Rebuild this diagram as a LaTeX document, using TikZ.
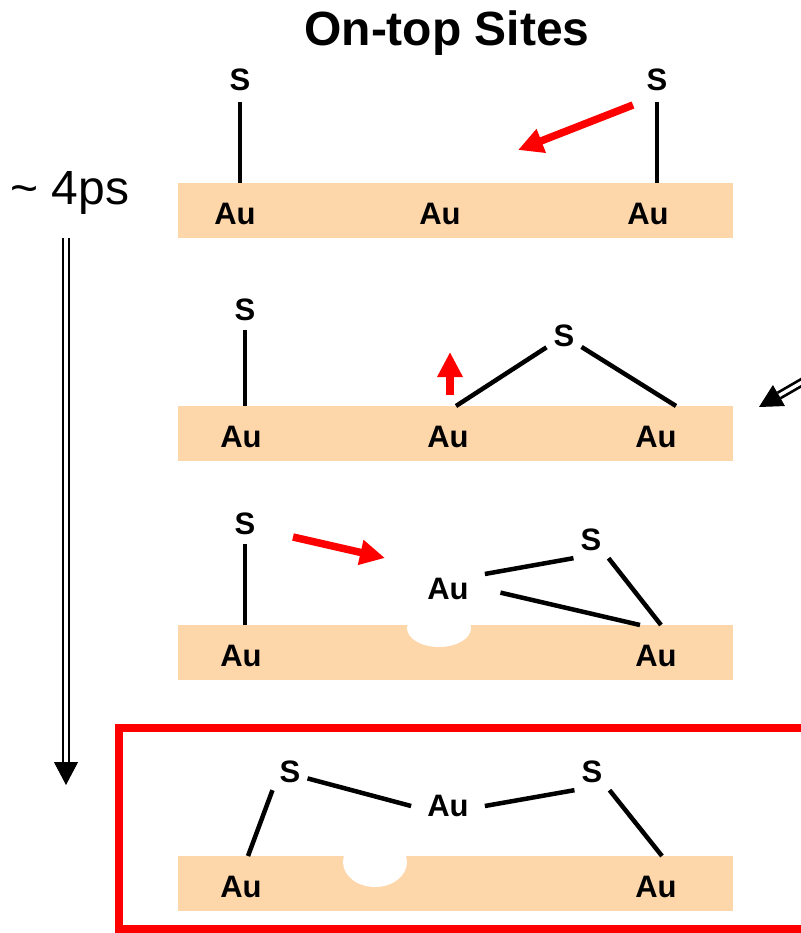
\documentclass[tikz,border=0pt]{standalone}
\usepackage{fontspec}
\setmainfont{Liberation Sans}
\usetikzlibrary{arrows.meta}
\definecolor{surface}{RGB}{253,214,170}

\begin{document}
\begin{tikzpicture}[x=1pt, y=-1pt,
    slab/.style={fill=surface, minimum width=555pt, minimum height=55pt, inner sep=0pt},
    atom/.style={font=\bfseries\fontsize{31}{33}\selectfont, inner sep=7pt},
    adatom/.style={font=\bfseries\fontsize{31}{33}\selectfont, inner xsep=16pt, inner ysep=4pt},
    bond/.style={line width=4.5pt},
    move/.style={red, line width=7.5pt, -{Triangle[width=24pt, length=25pt]}},
    slow/.style={line width=2.7pt, double, double distance=3.4pt},
    head/.style={line width=1pt, -{Triangle[width=24pt, length=23pt]}}]
  \useasboundingbox (0,0) rectangle (800,933);

  \node[font=\bfseries\fontsize{48}{52}\selectfont] (title) at (447,33) {On-top Sites};
  \node[font=\fontsize{48}{52}\selectfont] (time) at (70,193) {\textasciitilde{} 4ps};

  % the four gold surfaces
  \node[slab] (slab1) at (455.5,210.5) {};
  \node[slab] (slab2) at (455.5,433.5) {};
  \node[slab] (slab3) at (455.5,652.5) {};
  \node[slab] (slab4) at (455.5,883.5) {};
  % vacancies
  \fill[white] (439,628) ellipse [x radius=32pt, y radius=19pt];
  \fill[white] (375,862) ellipse [x radius=32pt, y radius=25pt];

  % step 1
  \node[atom] (s1a) at (240,80) {S};
  \node[atom] (s1b) at (657,80) {S};
  \node[atom] (au1a) at (235,214) {Au};
  \node[atom] (au1b) at (440,214) {Au};
  \node[atom] (au1c) at (648,214) {Au};
  \draw[bond, shorten <=4pt] (s1a) -- (s1a |- slab1.north);
  \draw[bond, shorten <=4pt] (s1b) -- (s1b |- slab1.north);
  \coordinate (m1a) at (633,105);
  \coordinate (m1b) at (518,150);
  \draw[move] (m1a) -- (m1b);

  % step 2
  \node[atom] (s2a) at (245,310) {S};
  \node[atom] (s2b) at (564,336) {S};
  \node[atom] (au2a) at (241,437) {Au};
  \node[atom] (au2b) at (448,437) {Au};
  \node[atom] (au2c) at (656,437) {Au};
  \coordinate (c2a) at (456,406);
  \coordinate (c2b) at (676,406);
  \draw[bond, shorten <=2pt] (s2a) -- (s2a |- slab2.north);
  \draw[bond] (s2b) -- (c2a);
  \draw[bond] (s2b) -- (c2b);
  \coordinate (m2a) at (450,395);
  \coordinate (m2b) at (450,352);
  \draw[move] (m2a) -- (m2b);

  % step 3
  \node[atom] (s3a) at (245,524) {S};
  \node[atom] (s3b) at (591,540) {S};
  \node[adatom] (au3) at (448,589) {Au};
  \node[atom] (au3a) at (241,656) {Au};
  \node[atom] (au3b) at (656,656) {Au};
  \coordinate (c3a) at (640,625);
  \coordinate (c3b) at (661,625);
  \draw[bond, shorten <=2pt] (s3a) -- (s3a |- slab3.north);
  \draw[bond] (au3.north east) -- (s3b.south west);
  \draw[bond, shorten <=16pt] (au3.east) -- (c3a);
  \draw[bond] (s3b.south east) -- (c3b);
  \coordinate (m3a) at (293,537);
  \coordinate (m3b) at (385,558);
  \draw[move] (m3a) -- (m3b);

  % step 4: staple
  \draw[red, line width=8pt] (119,727.5) rectangle (840,929);
  \node[atom] (s4a) at (290,772) {S};
  \node[atom] (s4b) at (592,772) {S};
  \node[adatom] (au4) at (448,806) {Au};
  \node[atom] (au4a) at (241,887) {Au};
  \node[atom] (au4b) at (656,887) {Au};
  \coordinate (c4a) at (248,856);
  \coordinate (c4b) at (662,856);
  \draw[bond] (s4a.south west) -- (c4a);
  \draw[bond] (s4a.-20) -- (au4.west);
  \draw[bond] (au4.east) -- (s4b.south west);
  \draw[bond] (s4b.south east) -- (c4b);

  % time axis
  \coordinate (t0) at (66,238);
  \coordinate (t1) at (66,762);
  \coordinate (t2) at (66,785);
  \draw[slow] (t0) -- (t1);
  \draw[head] (t1) -- (t2);

  % pointer from the right
  \coordinate (r0) at (830,366);
  \coordinate (r1) at (779,395.5);
  \coordinate (r2) at (759,407);
  \draw[slow] (r0) -- (r1);
  \draw[head] (r1) -- (r2);
\end{tikzpicture}
\end{document}
